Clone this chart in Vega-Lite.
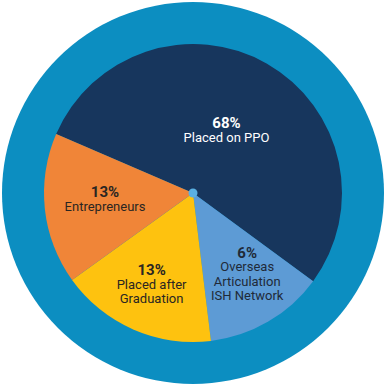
{
  "$schema": "https://vega.github.io/schema/vega-lite/v6.json",
  "width": 386,
  "height": 386,
  "padding": 0,
  "autosize": {"type": "fit", "contains": "padding"},
  "background": "white",
  "config": {"view": {"stroke": null}, "text": {"font": "Roboto"}},
  "data": {
    "values": [
      {"k": "ppo", "o": 1, "share": 53.6, "pct": "68%", "desc": "Placed on PPO"},
      {"k": "ovs", "o": 2, "share": 13.0, "pct": "6%", "desc": "Overseas\nArticulation\nISH Network"},
      {"k": "grad", "o": 3, "share": 17.0, "pct": "13%", "desc": "Placed after\nGraduation"},
      {"k": "ent", "o": 4, "share": 16.4, "pct": "13%", "desc": "Entrepreneurs"}
    ]
  },
  "layer": [
    {
      "data": {"values": [{"ring": 1}]},
      "mark": {"type": "arc", "theta": 0, "theta2": 6.2832, "radius": 191, "fill": "#0c8ec1"},
      "encoding": {}
    },
    {
      "mark": {"type": "arc", "radius": 149},
      "encoding": {
        "theta": {"field": "share", "type": "quantitative", "stack": true, "scale": {"range": [5.1191, 11.4023]}},
        "order": {"field": "o", "type": "quantitative"},
        "color": {
          "field": "k", "type": "nominal", "legend": null,
          "scale": {"domain": ["ppo", "ovs", "grad", "ent"], "range": ["#17365d", "#5d9bd5", "#fec20f", "#f08538"]}
        }
      }
    },
    {
      "data": {"values": [{"dot": 1}]},
      "mark": {"type": "arc", "theta": 0, "theta2": 6.2832, "radius": 4.5, "fill": "#5ab0e2"},
      "encoding": {}
    },
    {
      "mark": {"type": "text", "radius": 67.5, "fontWeight": "bold", "fontSize": 15, "baseline": "alphabetic", "dy": -6, "fill": "white"},
      "encoding": {
        "theta": {"field": "share", "type": "quantitative", "stack": true},
        "order": {"field": "o", "type": "quantitative"},
        "text": {"condition": {"test": "datum.k == 'ppo'", "field": "pct"}, "value": ""}
      }
    },
    {
      "mark": {"type": "text", "radius": 67.5, "fontSize": 13, "baseline": "alphabetic", "dy": 7.6, "fill": "white", "lineBreak": "\n"},
      "encoding": {
        "theta": {"field": "share", "type": "quantitative", "stack": true},
        "order": {"field": "o", "type": "quantitative"},
        "text": {"condition": {"test": "datum.k == 'ppo'", "field": "desc"}, "value": ""}
      }
    },
    {
      "mark": {"type": "text", "radius": 88.5, "fontWeight": "bold", "fontSize": 15, "baseline": "alphabetic", "dy": -6, "fill": "#2a2622"},
      "encoding": {
        "theta": {"field": "share", "type": "quantitative", "stack": true},
        "order": {"field": "o", "type": "quantitative"},
        "text": {"condition": {"test": "datum.k == 'ent'", "field": "pct"}, "value": ""}
      }
    },
    {
      "mark": {"type": "text", "radius": 88.5, "fontSize": 13, "baseline": "alphabetic", "dy": 8, "fill": "#2a2622", "lineBreak": "\n"},
      "encoding": {
        "theta": {"field": "share", "type": "quantitative", "stack": true},
        "order": {"field": "o", "type": "quantitative"},
        "text": {"condition": {"test": "datum.k == 'ent'", "field": "desc"}, "value": ""}
      }
    },
    {
      "mark": {"type": "text", "radius": 103.2, "fontWeight": "bold", "fontSize": 15, "baseline": "alphabetic", "dy": -12.6, "fill": "#2a2622"},
      "encoding": {
        "theta": {"field": "share", "type": "quantitative", "stack": true},
        "order": {"field": "o", "type": "quantitative"},
        "text": {"condition": {"test": "datum.k == 'grad'", "field": "pct"}, "value": ""}
      }
    },
    {
      "mark": {"type": "text", "radius": 103.2, "fontSize": 13, "baseline": "alphabetic", "dy": 1.7, "lineHeight": 14, "fill": "#2a2622", "lineBreak": "\n"},
      "encoding": {
        "theta": {"field": "share", "type": "quantitative", "stack": true},
        "order": {"field": "o", "type": "quantitative"},
        "text": {"condition": {"test": "datum.k == 'grad'", "field": "desc"}, "value": ""}
      }
    },
    {
      "mark": {"type": "text", "radius": 107.3, "fontWeight": "bold", "fontSize": 15, "baseline": "alphabetic", "dy": -27.2, "fill": "#1f2a38"},
      "encoding": {
        "theta": {"field": "share", "type": "quantitative", "stack": true},
        "order": {"field": "o", "type": "quantitative"},
        "text": {"condition": {"test": "datum.k == 'ovs'", "field": "pct"}, "value": ""}
      }
    },
    {
      "mark": {"type": "text", "radius": 107.3, "fontSize": 13, "baseline": "alphabetic", "dy": -14.5, "lineHeight": 14.5, "fill": "#1f2a38", "lineBreak": "\n"},
      "encoding": {
        "theta": {"field": "share", "type": "quantitative", "stack": true},
        "order": {"field": "o", "type": "quantitative"},
        "text": {"condition": {"test": "datum.k == 'ovs'", "field": "desc"}, "value": ""}
      }
    }
  ]
}
